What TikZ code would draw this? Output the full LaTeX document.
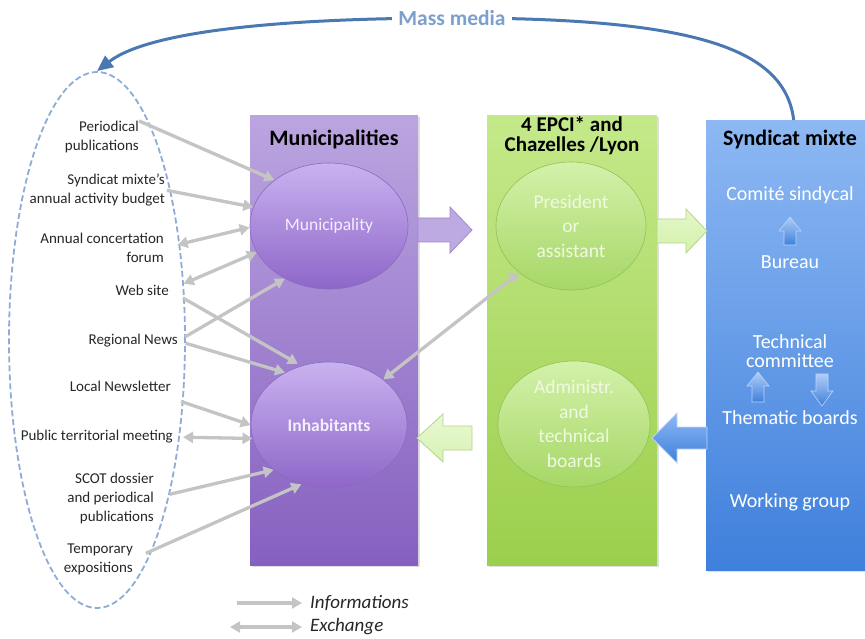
\documentclass[tikz,border=0pt]{standalone}
\usepackage{fontspec}
\setmainfont{Carlito}
\usetikzlibrary{arrows.meta,shapes.geometric,shadows,calc}

\definecolor{pTop}{HTML}{BBA5E0}
\definecolor{pBot}{HTML}{8660C0}
\definecolor{peTop}{HTML}{C9B2F0}
\definecolor{peBot}{HTML}{8E66C8}
\definecolor{pEdge}{HTML}{8A6BC0}
\definecolor{pTxt}{HTML}{F4EEFF}
\definecolor{gTop}{HTML}{C4E98A}
\definecolor{gBot}{HTML}{9CCF4C}
\definecolor{geTop}{HTML}{D3F1AA}
\definecolor{geBot}{HTML}{A6D766}
\definecolor{gEdge}{HTML}{92C257}
\definecolor{gTxt}{HTML}{F0F9E2}
\definecolor{bTop}{HTML}{8DB8F3}
\definecolor{bBot}{HTML}{3F80DC}
\definecolor{mmblue}{HTML}{4A78B2}
\definecolor{mmtext}{HTML}{7C9FCC}
\definecolor{dashblue}{HTML}{8EACD6}
\definecolor{arrgray}{HTML}{C4C4C4}
\definecolor{lbltext}{HTML}{262626}

% horizontal block arrow: style, tail x, head base x, tip x, y, shaft half, head half
\newcommand\HBlockArr[7]{%
  \path[#1] (#2,{#5-#6}) -- (#3,{#5-#6}) -- (#3,{#5-#7}) -- (#4,#5)
    -- (#3,{#5+#7}) -- (#3,{#5+#6}) -- (#2,{#5+#6}) -- cycle;}
% vertical block arrow: style, x, tail y, head base y, tip y, shaft half, head half
\newcommand\VBlockArr[7]{%
  \path[#1] ({#2-#6},#3) -- ({#2-#6},#4) -- ({#2-#7},#4) -- (#2,#5)
    -- ({#2+#7},#4) -- ({#2+#6},#4) -- ({#2+#6},#3) -- cycle;}

\begin{document}
\begin{tikzpicture}[x=1pt,y=-1pt,
  box/.style={rectangle, draw=none, inner sep=0, anchor=north west,
    drop shadow={opacity=0.25, shadow xshift=1.5pt, shadow yshift=-2pt}},
  ttl/.style={font=\fontsize{22}{17.5}\selectfont\bfseries, text=black, align=center, inner sep=0},
  lbl/.style={font=\fontsize{15}{19}\selectfont, text=lbltext, align=right, inner sep=0, anchor=east},
  pell/.style={ellipse, draw=pEdge, line width=0.6pt, top color=peTop, bottom color=peBot,
    text=pTxt, font=\fontsize{17.5}{20}\selectfont, inner sep=0},
  gell/.style={ellipse, draw=gEdge, line width=0.6pt, top color=geTop, bottom color=geBot,
    text=gTxt, font=\fontsize{19.5}{24.5}\selectfont, align=center, inner sep=0},
  btxt/.style={text=white, font=\fontsize{20}{20}\selectfont, align=center, inner sep=0},
  info/.style={draw=arrgray, line width=3.3pt, -{Triangle[length=10pt,width=11pt]}},
  exch/.style={draw=arrgray, line width=3.3pt,
    {Triangle[length=10pt,width=11pt]}-{Triangle[length=10pt,width=11pt]}},
  legtxt/.style={font=\fontsize{19}{19}\selectfont\itshape, text=lbltext, anchor=west, inner sep=0},
]
\useasboundingbox (0,0) rectangle (865,639);

% ---- the three organisation columns
\node[box, top color=pTop, bottom color=pBot, minimum width=168, minimum height=450] (mbox) at (250,115) {};
\node[box, top color=gTop, bottom color=gBot, minimum width=170, minimum height=450] (gbox) at (487,115) {};
\node[box, top color=bTop, bottom color=bBot, minimum width=175, minimum height=450] (smx) at (706,120) {};

\node[ttl] (tm) at (334,139) {Municipalities};
\node[ttl, font=\fontsize{21}{20}\selectfont\bfseries] (tg) at (572,136) {4 EPCI* and\\Chazelles /Lyon};
\node[ttl] (tb) at (790,140) {Syndicat mixte};

% ---- ellipses inside the columns
\node[pell, minimum width=158, minimum height=126] (mun) at (329,226) {Municipality};
\node[pell, minimum width=156, minimum height=126] (inh) at (329,425) {\bfseries Inhabitants};
\node[gell, minimum width=150, minimum height=128] (pres) at (571,226) {President\\or\\assistant};
\node[gell, minimum width=152, minimum height=126] (adm) at (574,424) {Administr.\\and\\technical\\boards};

% ---- Syndicat mixte bodies
\node[btxt] (com) at (790,195) {Comité sindycal};
\node[btxt] (bur) at (790,262) {Bureau};
\node[btxt, font=\fontsize{20}{19}\selectfont] (tec) at (790,351) {Technical\\committee};
\node[btxt] (thb) at (790,418) {Thematic boards};
\node[btxt] (wkg) at (790,502) {Working group};

\VBlockArr{top color=bTop!70!white, bottom color=bBot, draw=bTop!60!white, line width=0.6pt}{790}{245}{231}{217}{6}{11}
\VBlockArr{top color=bTop!70!white, bottom color=bBot, draw=bTop!60!white, line width=0.6pt}{758}{402}{386}{372}{6}{11}
\VBlockArr{top color=bTop!70!white, bottom color=bBot, draw=bTop!60!white, line width=0.6pt}{822}{374}{391}{406}{6}{11}

% ---- block arrows between the columns
\HBlockArr{fill=pTop!95!white, draw=pEdge!80!white, line width=0.8pt}{418}{450}{472}{230}{12}{23}
\HBlockArr{top color=geTop!60!white, bottom color=geTop, draw=gEdge!70!white, line width=0.8pt}{657}{686}{707}{231}{12}{22}
\HBlockArr{top color=geTop!50!white, bottom color=geTop!90!white, draw=gEdge!70!white, line width=0.8pt}{472}{443}{417}{438}{12}{24}
\HBlockArr{top color=bTop, bottom color=bBot, draw=bTop!60!white, line width=0.8pt}{707}{677}{652}{438}{11}{25}

% ---- communication tools, grouped in a dashed ellipse
\node[ellipse, draw=dashblue, line width=1.8pt, dash pattern=on 6pt off 3pt,
  minimum width=176, minimum height=536, inner sep=0] (media) at (97,340) {};

\node[lbl] (per) at (139,137) {Periodical\\publications};
\node[lbl] (syn) at (165,190) {Syndicat mixte’s\\annual activity budget};
\node[lbl] (ann) at (164,248) {Annual concertation\\forum};
\node[lbl] (web) at (169,290) {Web site};
\node[lbl] (reg) at (178,341) {Regional News};
\node[lbl] (loc) at (171,386) {Local Newsletter};
\node[lbl] (pub) at (173,437) {Public territorial meeting};
\node[lbl] (scot) at (154,498) {SCOT dossier\\and periodical\\publications};
\node[lbl] (tmp) at (133,559) {Temporary\\expositions};

% ---- information and exchange links
\draw[info] (per.north east) -- (mun.140);
\draw[info, shorten <=2pt] (syn.east) -- (mun.166);
\draw[exch, shorten <=14pt] (ann.east) -- (mun.181);
\draw[exch, shorten <=16pt] (web.east) -- (mun.200);
\draw[info, shorten <=16pt, shorten >=4pt] (web.east) -- (inh.115);
\draw[info, shorten <=8pt] (reg.east) -- (mun.230);
\draw[info, shorten <=8pt] (reg.east) -- (inh.130);
\draw[info] ($(loc.south east)+(10,10)$) -- (inh.180);
\draw[exch, shorten <=10pt] (pub.east) -- (inh.190);
\draw[info, shorten <=16pt] (scot.east) -- (inh.219);
\draw[info, shorten <=14pt] (tmp.east) -- (inh.245);
\draw[exch] (inh.40) -- (pres.222);

% ---- mass media loop from the Syndicat mixte back to the tools
\draw[mmblue, line width=3pt, -{Triangle[length=16pt,width=14pt]}]
  (smx.north) .. controls (785,50) and (700,18) .. (455,18)
  .. controls (290,18) and (150,30) .. (media.north);
\node[fill=white, text=mmtext, font=\fontsize{21.5}{21.5}\selectfont\bfseries, inner xsep=6pt, inner ysep=1pt] (mm) at (452,18) {Mass media};

% ---- legend
\node[legtxt] (li) at (310,603) {Informations};
\node[legtxt] (le) at (310,627) {Exchange};
\coordinate (lia) at (237,603);
\coordinate (lea) at (230,627);
\draw[info, shorten >=8pt] (lia) -- (li.west);
\draw[exch, shorten >=8pt] (lea) -- (le.west);
\end{tikzpicture}
\end{document}
